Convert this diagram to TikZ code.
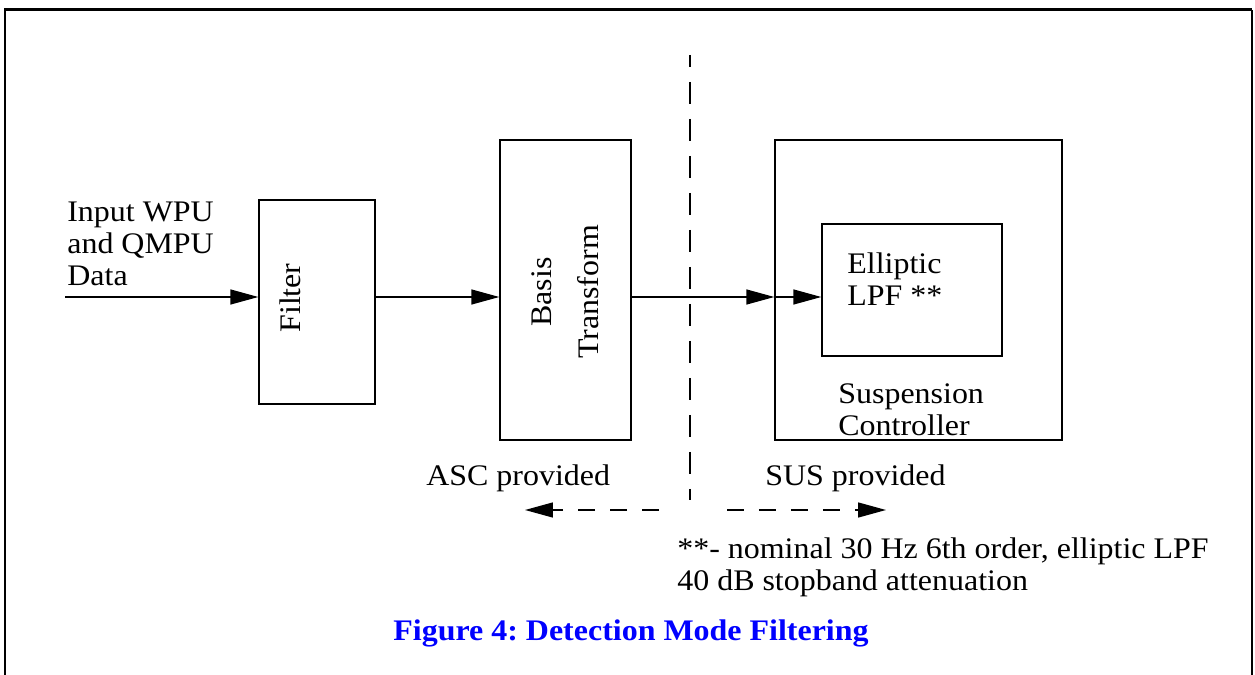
\documentclass[tikz,border=0pt]{standalone}
\usepackage{fontspec}
\setmainfont{Liberation Serif}[FakeStretch=1.07]
\usetikzlibrary{arrows.meta}
\definecolor{figblue}{RGB}{0,0,255}
\frenchspacing

\begin{document}
\begin{tikzpicture}[x=0.02cm,y=-0.02cm,
  box/.style={shape=rectangle,draw=black,line width=0.8pt,inner sep=0pt},
  lbl/.style={inner sep=0pt,align=left,font=\fontsize{17}{18.2}\selectfont},
  flow/.style={-{Triangle[length=0.56cm,width=0.3cm]},draw=black,line width=0.8pt},
  dashflow/.style={flow,dash pattern=on 0.34cm off 0.3cm,dash phase=0.34cm,shorten <=0.32cm},
  divider/.style={draw=black,line width=0.8pt,dash pattern=on 0.44cm off 0.3cm,dash phase=0.2cm}]
\useasboundingbox (0,0) rectangle (1255,675);
\draw[line width=0.06cm] (5,675) -- (5,10) -- (1252,10);
\draw[line width=0.03cm] (1252,10) -- (1252,675);

\node[box,minimum width=2.32cm,minimum height=4.08cm] (filter) at (317,302) {};
\node[box,minimum width=2.62cm,minimum height=6cm] (basis) at (565.5,290) {};
\node[box,minimum width=5.74cm,minimum height=6cm] (susp) at (918.5,290) {};
\node[box,minimum width=3.6cm,minimum height=2.64cm] (lpf) at (912,290) {};

\node[lbl,anchor=north west] (input) at (67,202) {Input WPU\\and QMPU\\Data};
\node[lbl,rotate=90] (filtertxt) at (290,298) {Filter};
\node[lbl,rotate=90,align=center] (basistxt) at (565,292) {Basis\\[0.3cm]Transform};
\node[lbl,anchor=north west] (lpftxt) at (847,252) {Elliptic\\LPF **};
\node[lbl,anchor=north west] (susptxt) at (838,383) {Suspension\\Controller};
\node[lbl,anchor=base west] (asc) at (426,486) {ASC provided};
\node[lbl,anchor=base west] (sus) at (765,486) {SUS provided};
\node[lbl,anchor=north west] (note) at (677,537) {**- nominal 30 Hz 6th order, elliptic LPF\\40 dB stopband attenuation};
\node[lbl,font=\fontsize{17}{18.2}\selectfont\bfseries,text=figblue,anchor=base] (caption) at (631,641) {Figure 4: Detection Mode Filtering};

\coordinate (in) at (65,297);
\coordinate (top) at (690,55);
\coordinate (bot) at (690,500);
\coordinate (midl) at (690,510);
\coordinate (midr) at (696,510);
\coordinate (left) at (525,510);
\coordinate (right) at (886,510);

\draw [flow] (in) -- (in -| filter.west);
\draw [flow] (in -| filter.east) -- (in -| basis.west);
\draw [flow] (in -| basis.east) -- (in -| susp.west);
\draw [flow] (in -| susp.west) -- (in -| lpf.west);

\draw [divider] (top) -- (bot);
\draw [dashflow] (midl) -- (left);
\draw [dashflow] (midr) -- (right);
\end{tikzpicture}
\end{document}
